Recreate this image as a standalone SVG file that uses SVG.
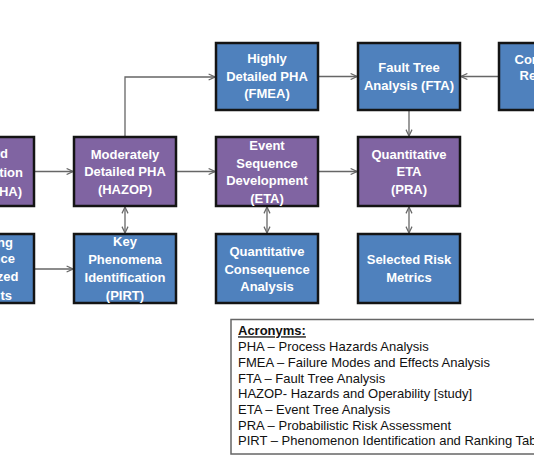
<svg xmlns="http://www.w3.org/2000/svg" width="534" height="462" viewBox="0 0 534 462">
<defs>
<marker id="ah" viewBox="0 0 10 10" refX="9.5" refY="5" markerWidth="7.5" markerHeight="7.5" markerUnits="userSpaceOnUse" orient="auto-start-reverse">
<path d="M1,1 L9.5,5 L1,9" fill="none" stroke="#666" stroke-width="1.6"/>
</marker>
</defs>
<style>
.blue{fill:#4f81bd;stroke:#141414;stroke-width:2.5}
.purple{fill:#8064a2;stroke:#141414;stroke-width:2.5}
.t{font-family:"Liberation Sans",Arial,sans-serif;font-weight:bold;font-size:13px;fill:#fff;text-anchor:middle}
.te{font-family:"Liberation Sans",Arial,sans-serif;font-weight:bold;font-size:13px;fill:#fff;text-anchor:end}
.ts{font-family:"Liberation Sans",Arial,sans-serif;font-weight:bold;font-size:13px;fill:#fff;text-anchor:start}
.c{fill:none;stroke:#666;stroke-width:1.3}
.lg{font-family:"Liberation Sans",Arial,sans-serif;font-size:13px;fill:#111}
</style>
<rect width="534" height="462" fill="#fff"/>
<g id="connectors">
<path class="c" d="M125,136 V77 H215" marker-end="url(#ah)"/>
<path class="c" d="M319,76.5 H357" marker-end="url(#ah)"/>
<path class="c" d="M498,76.5 H461" marker-end="url(#ah)"/>
<path class="c" d="M409,111 V136" marker-end="url(#ah)"/>
<path class="c" d="M35,171.5 H73" marker-end="url(#ah)"/>
<path class="c" d="M177,171.5 H215" marker-end="url(#ah)"/>
<path class="c" d="M319,171.5 H357" marker-end="url(#ah)"/>
<path class="c" d="M125,207 V233" marker-start="url(#ah)" marker-end="url(#ah)"/>
<path class="c" d="M267,207 V233" marker-start="url(#ah)" marker-end="url(#ah)"/>
<path class="c" d="M409,207 V233" marker-start="url(#ah)" marker-end="url(#ah)"/>
<path class="c" d="M35,269 H73" marker-end="url(#ah)"/>
</g>
<g id="node-pha">
<rect class="purple" x="-68" y="137" width="102" height="69"/>
<text class="te" x="8" y="157.5">Hazard</text>
<text class="te" x="23" y="177">Identification</text>
<text class="te" x="22" y="196">(PHA)</text>
</g>
<g id="node-existing">
<rect class="blue" x="-68" y="234" width="102" height="69"/>
<text class="te" x="13" y="247">ng</text>
<text class="te" x="15" y="263">nce</text>
<text class="te" x="18.5" y="281">zed</text>
<text class="te" x="12" y="299.5">ts</text>
</g>
<g id="node-hazop">
<rect class="purple" x="74" y="137" width="102" height="69"/>
<text class="t" x="125" y="158.5">Moderately</text>
<text class="t" x="125" y="176.3">Detailed PHA</text>
<text class="t" x="125" y="194.3">(HAZOP)</text>
</g>
<g id="node-pirt">
<rect class="blue" x="74" y="234" width="102" height="69"/>
<text class="t" x="125" y="246">Key</text>
<text class="t" x="125" y="264">Phenomena</text>
<text class="t" x="125" y="282">Identification</text>
<text class="t" x="125" y="300">(PIRT)</text>
</g>
<g id="node-fmea">
<rect class="blue" x="216" y="43" width="102" height="67"/>
<text class="t" x="267" y="62.5">Highly</text>
<text class="t" x="267" y="80.5">Detailed PHA</text>
<text class="t" x="267" y="98">(FMEA)</text>
</g>
<g id="node-eta">
<rect class="purple" x="216" y="137" width="102" height="69"/>
<text class="t" x="267" y="149.5">Event</text>
<text class="t" x="267" y="167.5">Sequence</text>
<text class="t" x="267" y="185.3">Development</text>
<text class="t" x="267" y="203">(ETA)</text>
</g>
<g id="node-consequence">
<rect class="blue" x="216" y="234" width="102" height="69"/>
<text class="t" x="267" y="256">Quantitative</text>
<text class="t" x="267" y="273.5">Consequence</text>
<text class="t" x="267" y="291">Analysis</text>
</g>
<g id="node-fta">
<rect class="blue" x="358" y="43" width="102" height="67"/>
<text class="t" x="409" y="71.5">Fault Tree</text>
<text class="t" x="409" y="89.5">Analysis (FTA)</text>
</g>
<g id="node-pra">
<rect class="purple" x="358" y="137" width="102" height="69"/>
<text class="t" x="409" y="158.5">Quantitative</text>
<text class="t" x="409" y="176.3">ETA</text>
<text class="t" x="409" y="194.3">(PRA)</text>
</g>
<g id="node-metrics">
<rect class="blue" x="358" y="234" width="102" height="69"/>
<text class="t" x="409" y="263.5">Selected Risk</text>
<text class="t" x="409" y="282">Metrics</text>
</g>
<g id="node-component">
<rect class="blue" x="499" y="43" width="102" height="67"/>
<text class="ts" x="514.5" y="63.5">Component</text>
<text class="ts" x="519.5" y="80">Reliability</text>
</g>
<g id="legend">
<rect x="231" y="319.5" width="320" height="134.5" fill="#fff" stroke="#666" stroke-width="1.5"/>
<text class="lg" x="238" y="335.3" font-weight="bold" text-decoration="underline">Acronyms:</text>
<text class="lg" x="238" y="350.8">PHA – Process Hazards Analysis</text>
<text class="lg" x="238" y="366.5">FMEA – Failure Modes and Effects Analysis</text>
<text class="lg" x="238" y="382.5">FTA – Fault Tree Analysis</text>
<text class="lg" x="238" y="398">HAZOP- Hazards and Operability [study]</text>
<text class="lg" x="238" y="413.7">ETA – Event Tree Analysis</text>
<text class="lg" x="238" y="429.5">PRA – Probabilistic Risk Assessment</text>
<text class="lg" x="238" y="445.3">PIRT – Phenomenon Identification and Ranking Table</text>
</g>
</svg>
